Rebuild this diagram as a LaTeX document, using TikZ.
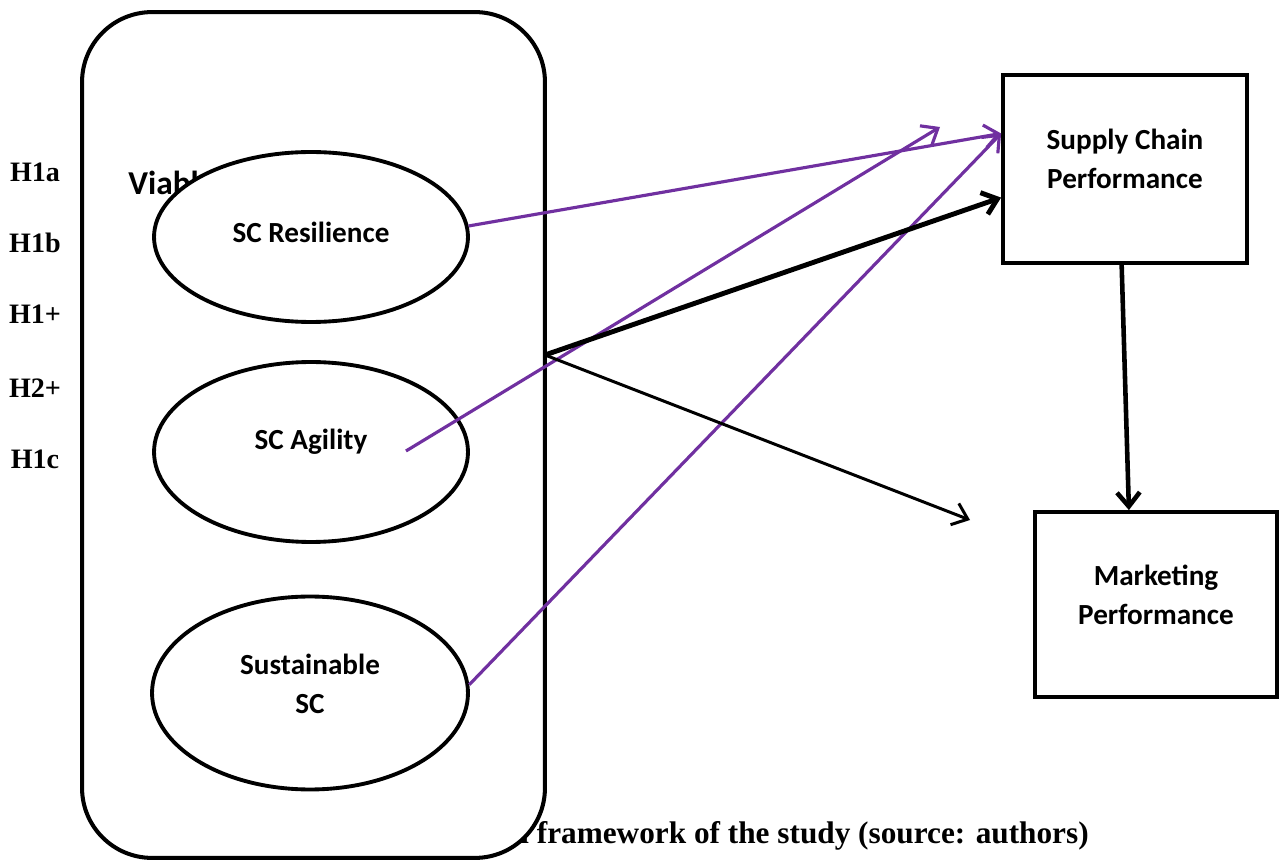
\documentclass[tikz,border=0pt]{standalone}
\usepackage{fontspec}
\setmainfont{Liberation Serif}
\newfontfamily\carlito{Carlito}
\usetikzlibrary{arrows.meta,shapes.geometric}
\definecolor{hpurple}{RGB}{112,48,160}

\begin{document}
\begin{tikzpicture}[x=0.02cm,y=-0.02cm,
    hypo/.style={font=\bfseries\fontsize{16}{19}\selectfont},
    construct/.style={draw,ellipse,line width=2.2pt,fill=white,inner sep=0pt,
        minimum width=6.28cm,align=center,
        font=\carlito\bfseries\fontsize{16.6}{22}\selectfont},
    perfbox/.style={draw,line width=2.2pt,fill=white,inner sep=0pt,align=center,
        font=\carlito\bfseries\fontsize{16.6}{22}\selectfont},
    purplearrow/.style={hpurple,line width=1.8pt,-{Straight Barb[length=8pt,width=13pt]}},
    blackarrow/.style={black,line width=1.7pt,-{Straight Barb[length=8pt,width=13pt]}}]
    \useasboundingbox (0,0) rectangle (1279,861);

    % hypotheses on the left
    \node[hypo] (h1a) at (35,172) {H1a};
    \node[hypo] (h1b) at (35,243) {H1b};
    \node[hypo] (h1p) at (35,314) {H1+};
    \node[hypo] (h2p) at (35,388) {H2+};
    \node[hypo] (h1c) at (35,459) {H1c};

    % caption, partly hidden by the frame
    \node[anchor=base west,inner sep=0pt,font=\bfseries\fontsize{17.8}{21}\selectfont] (cap) at (520,843) {l framework of the study (source: authors)};

    % viable supply chain frame
    \node[draw,line width=2.3pt,fill=white,rounded corners=1.4cm,
        minimum width=9.26cm,minimum height=16.92cm] (vsc) at (313.5,435) {};
    \node[anchor=base west,inner sep=0pt,font=\carlito\bfseries\fontsize{19}{23}\selectfont] (vtitle) at (128,195) {Viable};

    \node[construct,minimum height=3.4cm,text depth=5.8pt] (res) at (311,237) {SC Resilience};
    \node[construct,minimum height=3.6cm,text depth=14.7pt] (agi) at (311,452) {SC Agility};
    \node[construct,minimum height=3.86cm,minimum width=6.32cm,text depth=10.8pt] (sus) at (310,693) {Sustainable\\SC};

    % performance boxes
    \node[perfbox,minimum width=4.88cm,minimum height=3.76cm,text depth=11.4pt] (scp) at (1125,169) {Supply Chain\\Performance};
    \node[perfbox,minimum width=4.84cm,minimum height=3.7cm,text depth=11.4pt] (mkp) at (1156,604.5) {Marketing\\Performance};

    \coordinate (split) at (545,355);
    \coordinate (agitail) at (406,451);
    \coordinate (agihead) at (940,127);
    \coordinate (mkphead) at (970,520);

    % paths
    \draw[purplearrow] (res.4) -- (scp.164);
    \draw[purplearrow] (agitail) -- (agihead);
    \draw[purplearrow] (sus.3) -- (scp.164);
    \draw[blackarrow,line width=2.8pt] (split) -- (scp.193);
    \draw[blackarrow] (split) -- (mkphead);
    \draw[blackarrow,line width=2.6pt] (scp.268) -- (mkp.106);
\end{tikzpicture}
\end{document}
